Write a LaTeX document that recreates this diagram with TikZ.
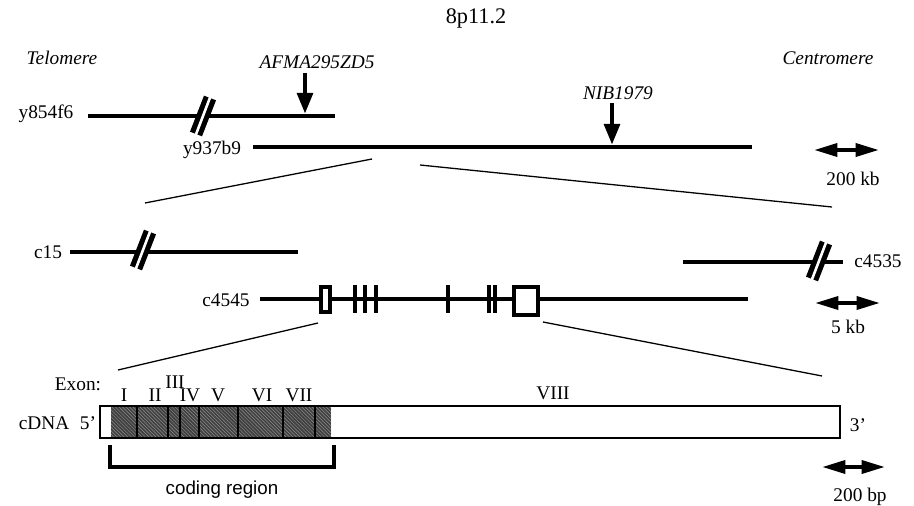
\documentclass[tikz,border=0pt]{standalone}
\usepackage{fontspec}
\setmainfont{Liberation Serif}
\setsansfont{Liberation Sans}
\usetikzlibrary{arrows.meta,patterns,calc}

\tikzset{
  clone/.style={line width=3.4pt},
  zoomline/.style={line width=1.1pt},
  lbl/.style={inner sep=0pt, font=\fontsize{16.5}{19}\selectfont},
  marker/.style={line width=4.2pt, -{Triangle[length=18pt,width=13pt]}},
  scalebar/.style={line width=3.4pt, {Triangle[length=20pt,width=11pt]}-{Triangle[length=20pt,width=11pt]}},
  exonbox/.style={line width=3.2pt, fill=white},
  tick/.style={line width=3.4pt}
}

% double slash on a clone line
\newcommand{\clonebreak}[1]{%
  \draw[line width=11pt] ($(#1)+(-7,18)$) -- ($(#1)+(7,-18)$);
  \draw[white, line width=2.2pt] ($(#1)+(-8,21)$) -- ($(#1)+(8,-21)$);
}

\begin{document}
\begin{tikzpicture}[x=0.03cm, y=-0.03cm]
\useasboundingbox (0,0) rectangle (914,506);

% header
\node[lbl, font=\fontsize{19}{22}\selectfont] (title) at (476,18) {8p11.2};
\node[lbl, font=\fontsize{16.5}{19}\itshape] (telomere) at (62,58) {Telomere};
\node[lbl, font=\fontsize{16.5}{19}\itshape] (centromere) at (828,58) {Centromere};

% YAC level
\draw[clone] (88,116) coordinate (y854f6w) -- (335,116) coordinate (y854f6e);
\node[lbl] (y854f6) at (46,114) {y854f6};
\coordinate (cutA) at (203,116);
\clonebreak{cutA}
\draw[clone] (253,147) coordinate (y937b9w) -- (752,147) coordinate (y937b9e);
\node[lbl] (y937b9) at (212,150) {y937b9};

\node[lbl, font=\fontsize{16.5}{19}\itshape] (afma) at (317,62) {AFMA295ZD5};
\coordinate (afmaTop) at (305,73);
\coordinate (afmaTip) at (305,114);
\draw[marker] (afmaTop) -- (afmaTip);
\node[lbl, font=\fontsize{16.5}{19}\itshape] (nib) at (618,93) {NIB1979};
\coordinate (nibTop) at (612,103);
\coordinate (nibTip) at (612,145);
\draw[marker] (nibTop) -- (nibTip);

\coordinate (kbA) at (814,150);
\coordinate (kbB) at (879,150);
\draw[scalebar] (kbA) -- (kbB);
\node[lbl] (kb200) at (853,179) {200 kb};

% zoom to cosmid level
\coordinate (zA1) at (372,159);
\coordinate (zA2) at (145,203);
\coordinate (zB1) at (420,165);
\coordinate (zB2) at (832,207);
\draw[zoomline] (zA1) -- (zA2);
\draw[zoomline] (zB1) -- (zB2);

% cosmid level
\draw[clone] (70,252) coordinate (c15w) -- (298,252) coordinate (c15e);
\node[lbl] (c15) at (48,252) {c15};
\coordinate (cutB) at (143,250);
\clonebreak{cutB}
\draw[clone] (683,262) coordinate (c4535w) -- (843,262) coordinate (c4535e);
\node[lbl] (c4535) at (878,261) {c4535};
\coordinate (cutC) at (819,261);
\clonebreak{cutC}

\draw[clone] (260,299) coordinate (c4545w) -- (748,299) coordinate (c4545e);
\node[lbl] (c4545) at (226,300) {c4545};
\draw[exonbox] (321,287) rectangle (330,312);
\foreach \t in {355,365,376,448,489,495}
  \draw[tick] (\t,285) -- (\t,313);
\draw[exonbox] (514,287) rectangle (538,315);

\coordinate (kb5A) at (815,303);
\coordinate (kb5B) at (880,303);
\draw[scalebar] (kb5A) -- (kb5B);
\node[lbl] (kb5) at (848,327) {5 kb};

% zoom to cDNA
\coordinate (zC1) at (318,323);
\coordinate (zC2) at (118,370);
\coordinate (zD1) at (543,322);
\coordinate (zD2) at (822,376);
\draw[zoomline] (zC1) -- (zC2);
\draw[zoomline] (zD1) -- (zD2);

% cDNA
\node[lbl] (exon) at (78,384) {Exon:};
\foreach \n/\x/\y in {I/124/395, II/155/395, III/175/382, IV/190/395, V/218/395, VI/262/395, VII/299/395, VIII/553/393}
  \node[lbl] (ex\n) at (\x,\y) {\n};
\fill[black!75] (111,406) rectangle (331,438);
\fill[pattern=north west lines, pattern color=white!55!black] (111,406) rectangle (331,438);
\foreach \d in {137,168,180,199,238,283,315}
  \draw[line width=2.4pt] (\d,406) -- (\d,438);
\draw[line width=1.8pt] (100,406) rectangle (840,438);
\node[lbl] (cdna) at (44,423) {cDNA};
\node[lbl] (five) at (88,423) {5'};
\node[lbl] (three) at (858,425) {3'};

\coordinate (brL) at (110,445);
\coordinate (brR) at (334,445);
\draw[line width=3.4pt] (brL) -- ++(0,22) -| (brR);
\node[lbl, font=\fontsize{16}{19}\sffamily] (coding) at (222,490) {coding region};

\coordinate (bpA) at (822,467);
\coordinate (bpB) at (885,467);
\draw[scalebar] (bpA) -- (bpB);
\node[lbl] (bp200) at (860,497) {200 bp};
\end{tikzpicture}
\end{document}
